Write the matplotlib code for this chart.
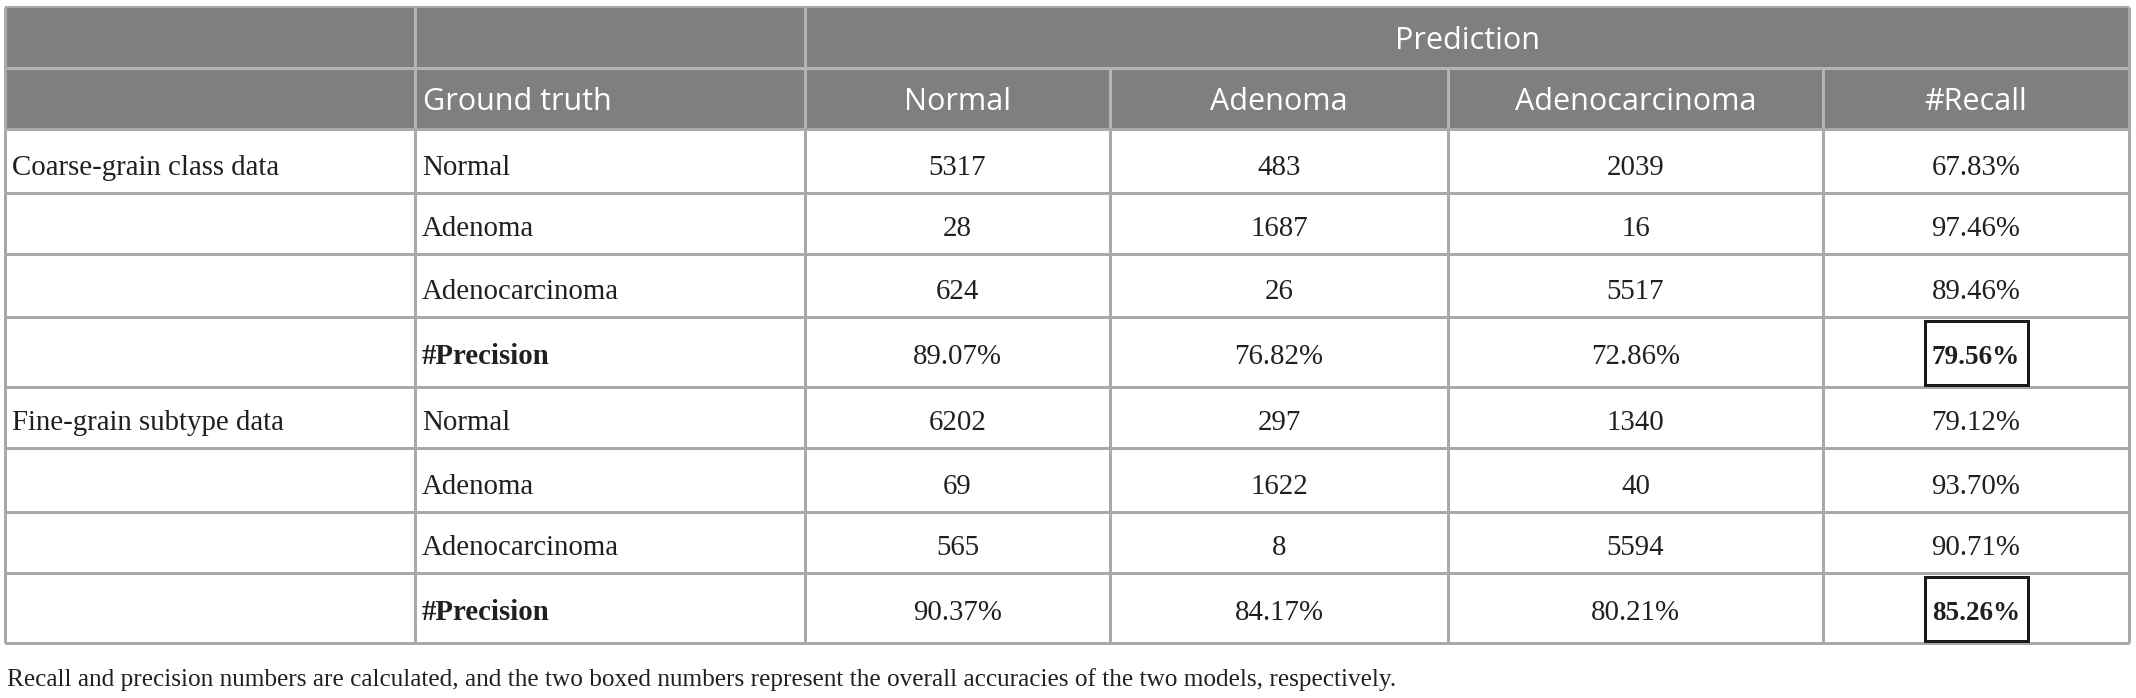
import matplotlib
matplotlib.use("Agg")
import matplotlib.pyplot as plt
from matplotlib.patches import Rectangle

# ---------------- data ----------------
group_labels = ["Coarse-grain class data", "Fine-grain subtype data"]
truth_labels = ["Normal", "Adenoma", "Adenocarcinoma", "#Precision"]
pred_header = "Prediction"
truth_header = "Ground truth"
pred_cols = ["Normal", "Adenoma", "Adenocarcinoma", "#Recall"]

coarse_counts = [[5317, 483, 2039], [28, 1687, 16], [624, 26, 5517]]
coarse_recall = ["67.83%", "97.46%", "89.46%"]
coarse_precision = ["89.07%", "76.82%", "72.86%"]
coarse_accuracy = "79.56%"

fine_counts = [[6202, 297, 1340], [69, 1622, 40], [565, 8, 5594]]
fine_recall = ["79.12%", "93.70%", "90.71%"]
fine_precision = ["90.37%", "84.17%", "80.21%"]
fine_accuracy = "85.26%"

footnote = ("Recall and precision numbers are calculated, and the two boxed numbers "
            "represent the overall accuracies of the two models, respectively.")

# ---------------- layout ----------------
W, H = 2136, 698
col_x = [5, 415, 805, 1110, 1448, 1823, 2129]
head_y = [7, 68, 129]
row_h = [64, 61, 63, 70, 61, 64, 61, 70]
row_y = [head_y[-1]]
for h in row_h:
    row_y.append(row_y[-1] + h)

HEAD_BG = "#7f7f7f"
HEAD_LINE = "#b4b4b4"
GRID = "#a9a9a9"
TXT = "#231f20"
SERIF = ["Liberation Serif", "DejaVu Serif"]
SANS = ["Open Sans", "DejaVu Sans"]
BODY_FS = 20.8
BOX_FS = 19.5
HEAD_FS = 22
FOOT_FS = 18.2
px = 0.72  # points per pixel at dpi 100

fig = plt.figure(figsize=(W / 100, H / 100), dpi=100)
ax = fig.add_axes([0, 0, 1, 1])
ax.set_xlim(0, W)
ax.set_ylim(H, 0)
ax.axis("off")

# header background
ax.add_patch(Rectangle((col_x[0], head_y[0]), col_x[-1] - col_x[0], head_y[-1] - head_y[0],
                       facecolor=HEAD_BG, edgecolor="none", zorder=1))
# header lines
ax.hlines(head_y[1], col_x[0], col_x[-1], color=HEAD_LINE, lw=3 * px, zorder=2)
for i, x in enumerate(col_x[1:-1], start=1):
    y0 = head_y[0] if i <= 2 else head_y[1]
    ax.vlines(x, y0, head_y[-1], color=HEAD_LINE, lw=3 * px, zorder=2)

# body grid
for y in row_y:
    ax.hlines(y, col_x[0], col_x[-1], color=GRID, lw=3 * px, zorder=2)
for x in col_x:
    ax.vlines(x, row_y[0], row_y[-1], color=GRID, lw=3 * px, zorder=2)
ax.vlines([col_x[0], col_x[-1]], head_y[0], head_y[-1], color=GRID, lw=3 * px, zorder=2)
ax.hlines(head_y[0], col_x[0], col_x[-1], color=GRID, lw=2 * px, zorder=2)

# header texts (baseline placed ~19 px above each header row's bottom)
ax.text((col_x[2] + col_x[-1]) / 2, head_y[1] - 19, pred_header,
        ha="center", va="baseline", color="white", fontsize=HEAD_FS, family=SANS, zorder=3)
base2 = head_y[2] - 19
ax.text(col_x[1] + 8, base2, truth_header, ha="left", va="baseline", color="white",
        fontsize=HEAD_FS, family=SANS, zorder=3)
for j, lab in enumerate(pred_cols):
    cx = (col_x[j + 2] + col_x[j + 3]) / 2
    ax.text(cx, base2, lab, ha="center", va="baseline", color="white",
            fontsize=HEAD_FS, family=SANS, zorder=3)

# body
groups = [
    (coarse_counts, coarse_recall, coarse_precision, coarse_accuracy),
    (fine_counts, fine_recall, fine_precision, fine_accuracy),
]
for g, (counts, recall, precision, acc) in enumerate(groups):
    for r in range(4):
        ri = g * 4 + r
        top, bot = row_y[ri], row_y[ri + 1]
        is_prec = (r == 3)
        base = bot - (23 if is_prec else 18)
        if r == 0:
            ax.text(col_x[0] + 7, base, group_labels[g], ha="left", va="baseline",
                    color=TXT, fontsize=BODY_FS, family=SERIF, zorder=3)
        ax.text(col_x[1] + 7, base, truth_labels[r], ha="left", va="baseline", color=TXT,
                fontsize=BODY_FS, family=SERIF, weight="bold" if is_prec else "normal",
                zorder=3)
        if is_prec:
            vals = list(precision) + [acc]
        else:
            vals = [str(v) for v in counts[r]] + [recall[r]]
        for j, v in enumerate(vals):
            cx = (col_x[j + 2] + col_x[j + 3]) / 2
            bold = is_prec and j == 3
            ax.text(cx, base, v, ha="center", va="baseline", color=TXT,
                    fontsize=BOX_FS if bold else BODY_FS, family=SERIF,
                    weight="bold" if bold else "normal", zorder=3)
            if bold:
                bw = 103
                ax.add_patch(Rectangle((cx - bw / 2, top + 4), bw, (bot - 2) - (top + 4),
                                       facecolor="none", edgecolor="#1a1a1a",
                                       lw=3 * px, zorder=3))

ax.text(7, 686, footnote, ha="left", va="baseline", color=TXT,
        fontsize=FOOT_FS, family=SERIF)

fig.savefig("out.png", dpi=100)
